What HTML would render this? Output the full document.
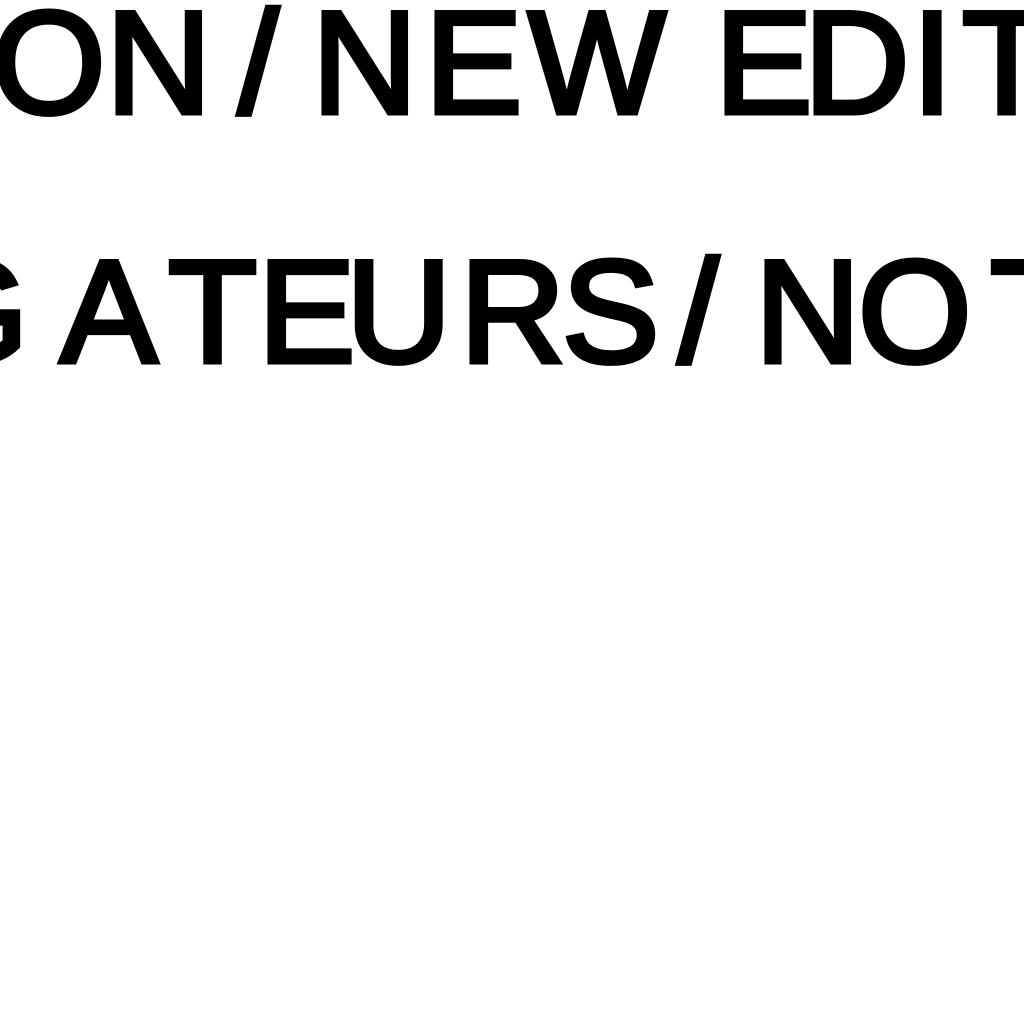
<!DOCTYPE html>
<html><head><meta charset="utf-8"><style>
html,body{margin:0;padding:0;background:#fff;width:1024px;height:1024px;overflow:hidden}
svg{display:block}
text{font-family:"Liberation Sans",sans-serif;font-weight:normal;font-size:146px;fill:#000;stroke:#000;stroke-width:5;stroke-linejoin:miter}
</style></head><body>
<svg width="1024" height="1024" viewBox="0 0 1024 1024" xmlns="http://www.w3.org/2000/svg">
<rect width="1024" height="1024" fill="#fff"/>
<text y="113">
<tspan x="-8">O</tspan><tspan x="106">N</tspan><tspan x="238">/</tspan><tspan x="312">N</tspan><tspan x="425">E</tspan><tspan x="528">W</tspan><tspan x="715">E</tspan><tspan x="804">D</tspan><tspan x="912">I</tspan><tspan x="962">T</tspan>
</text>
<text y="362">
<tspan x="-85">G</tspan><tspan x="60">A</tspan><tspan x="168">T</tspan><tspan x="258">E</tspan><tspan x="346">U</tspan><tspan x="460">R</tspan><tspan x="562">S</tspan><tspan x="678">/</tspan><tspan x="755">N</tspan><tspan x="858">O</tspan><tspan x="990">T</tspan>
</text>
</svg>
</body></html>
